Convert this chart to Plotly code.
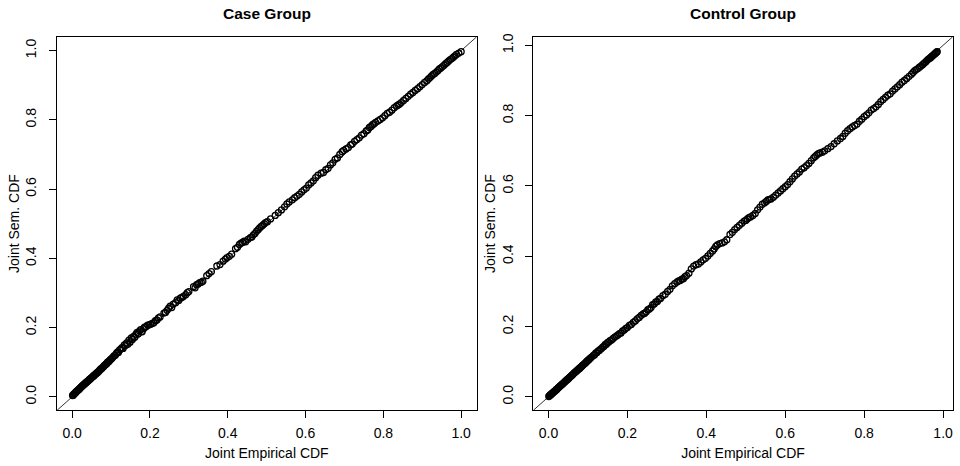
import plotly.graph_objects as go

# Joint empirical CDF vs joint semiparametric CDF, case group
case_x = [
    0.001, 0.003, 0.004, 0.006, 0.007, 0.009, 0.010, 0.012, 0.013, 0.015,
    0.016, 0.018, 0.019, 0.021, 0.022, 0.024, 0.025, 0.027, 0.028, 0.030,
    0.031, 0.033, 0.035, 0.036, 0.038, 0.040, 0.041, 0.043, 0.045, 0.046,
    0.048, 0.050, 0.052, 0.054, 0.055, 0.057, 0.059, 0.061, 0.063, 0.065,
    0.067, 0.069, 0.071, 0.073, 0.075, 0.077, 0.079, 0.081, 0.083, 0.085,
    0.087, 0.089, 0.091, 0.093, 0.095, 0.097, 0.099, 0.101, 0.103, 0.105,
    0.108, 0.111, 0.114, 0.117, 0.119, 0.122, 0.125, 0.128, 0.131, 0.134,
    0.137, 0.140, 0.143, 0.146, 0.149, 0.152, 0.155, 0.158, 0.161, 0.164,
    0.167, 0.170, 0.173, 0.176, 0.180, 0.183, 0.186, 0.190, 0.194, 0.198,
    0.202, 0.206, 0.210, 0.214, 0.218, 0.222, 0.226, 0.236, 0.240, 0.244,
    0.248, 0.252, 0.256, 0.260, 0.266, 0.270, 0.274, 0.278, 0.282, 0.286,
    0.292, 0.296, 0.300, 0.312, 0.316, 0.320, 0.324, 0.328, 0.332, 0.336,
    0.346, 0.352, 0.358, 0.372, 0.380, 0.388, 0.394, 0.398, 0.404, 0.410,
    0.420, 0.425, 0.430, 0.434, 0.438, 0.442, 0.446, 0.452, 0.458, 0.462,
    0.466, 0.470, 0.474, 0.478, 0.482, 0.486, 0.490, 0.494, 0.498, 0.502,
    0.510, 0.522, 0.530, 0.538, 0.546, 0.552, 0.558, 0.566, 0.572, 0.578,
    0.584, 0.590, 0.596, 0.602, 0.608, 0.614, 0.620, 0.626, 0.632, 0.640,
    0.646, 0.652, 0.658, 0.664, 0.670, 0.676, 0.682, 0.688, 0.694, 0.698,
    0.704, 0.710, 0.716, 0.720, 0.726, 0.732, 0.738, 0.744, 0.750, 0.756,
    0.760, 0.764, 0.768, 0.772, 0.776, 0.780, 0.786, 0.792, 0.798, 0.804,
    0.810, 0.816, 0.822, 0.828, 0.834, 0.838, 0.842, 0.846, 0.852, 0.858,
    0.864, 0.870, 0.876, 0.882, 0.888, 0.894, 0.900, 0.906, 0.912, 0.916,
    0.920, 0.924, 0.928, 0.932, 0.936, 0.940, 0.944, 0.948, 0.952, 0.956,
    0.960, 0.964, 0.968, 0.972, 0.976, 0.980, 0.984, 0.988, 0.994, 1.000,
]
case_y = [
    0.004, 0.005, 0.008, 0.009, 0.011, 0.012, 0.015, 0.016, 0.017, 0.020,
    0.020, 0.023, 0.023, 0.026, 0.027, 0.029, 0.031, 0.032, 0.034, 0.035,
    0.037, 0.038, 0.041, 0.041, 0.044, 0.045, 0.047, 0.048, 0.051, 0.051,
    0.054, 0.055, 0.058, 0.059, 0.061, 0.062, 0.065, 0.066, 0.069, 0.070,
    0.073, 0.074, 0.078, 0.079, 0.082, 0.083, 0.086, 0.088, 0.091, 0.092,
    0.095, 0.096, 0.100, 0.101, 0.103, 0.106, 0.108, 0.110, 0.112, 0.115,
    0.119, 0.120, 0.126, 0.130, 0.128, 0.136, 0.138, 0.142, 0.140, 0.150,
    0.148, 0.156, 0.152, 0.164, 0.158, 0.170, 0.166, 0.175, 0.172, 0.181,
    0.186, 0.182, 0.190, 0.194, 0.188, 0.197, 0.201, 0.203, 0.207, 0.208,
    0.210, 0.212, 0.214, 0.220, 0.222, 0.228, 0.231, 0.242, 0.244, 0.250,
    0.256, 0.262, 0.258, 0.268, 0.272, 0.280, 0.278, 0.285, 0.287, 0.290,
    0.295, 0.301, 0.304, 0.318, 0.315, 0.324, 0.326, 0.330, 0.331, 0.334,
    0.350, 0.356, 0.362, 0.378, 0.382, 0.392, 0.398, 0.402, 0.406, 0.412,
    0.428, 0.432, 0.440, 0.444, 0.446, 0.450, 0.448, 0.455, 0.460, 0.462,
    0.468, 0.472, 0.478, 0.483, 0.488, 0.492, 0.496, 0.500, 0.504, 0.506,
    0.514, 0.524, 0.532, 0.540, 0.549, 0.557, 0.563, 0.569, 0.575, 0.580,
    0.585, 0.592, 0.598, 0.603, 0.612, 0.618, 0.624, 0.633, 0.640, 0.646,
    0.648, 0.656, 0.660, 0.670, 0.676, 0.686, 0.690, 0.700, 0.708, 0.712,
    0.716, 0.720, 0.728, 0.730, 0.738, 0.743, 0.748, 0.756, 0.760, 0.768,
    0.771, 0.778, 0.781, 0.786, 0.789, 0.793, 0.797, 0.801, 0.806, 0.812,
    0.819, 0.822, 0.828, 0.835, 0.840, 0.843, 0.846, 0.850, 0.856, 0.862,
    0.868, 0.874, 0.879, 0.885, 0.890, 0.896, 0.902, 0.908, 0.913, 0.918,
    0.922, 0.927, 0.931, 0.934, 0.938, 0.942, 0.947, 0.950, 0.954, 0.958,
    0.962, 0.966, 0.970, 0.974, 0.977, 0.981, 0.985, 0.989, 0.993, 0.997,
]

# Same comparison for the control group
control_x = [
    0.001, 0.002, 0.004, 0.005, 0.007, 0.008, 0.010, 0.011, 0.013, 0.014,
    0.016, 0.017, 0.019, 0.020, 0.022, 0.024, 0.025, 0.027, 0.029, 0.030,
    0.032, 0.034, 0.035, 0.037, 0.039, 0.041, 0.042, 0.044, 0.046, 0.048,
    0.050, 0.052, 0.053, 0.055, 0.057, 0.059, 0.061, 0.063, 0.065, 0.067,
    0.069, 0.071, 0.073, 0.075, 0.077, 0.079, 0.081, 0.083, 0.085, 0.087,
    0.089, 0.091, 0.093, 0.095, 0.097, 0.099, 0.101, 0.103, 0.105, 0.107,
    0.110, 0.114, 0.117, 0.120, 0.123, 0.126, 0.129, 0.132, 0.135, 0.138,
    0.141, 0.144, 0.147, 0.150, 0.153, 0.156, 0.160, 0.164, 0.168, 0.172,
    0.176, 0.180, 0.184, 0.188, 0.192, 0.196, 0.200, 0.205, 0.210, 0.215,
    0.220, 0.225, 0.230, 0.235, 0.240, 0.244, 0.248, 0.252, 0.256, 0.260,
    0.264, 0.268, 0.272, 0.276, 0.280, 0.284, 0.290, 0.296, 0.302, 0.308,
    0.314, 0.320, 0.326, 0.330, 0.334, 0.338, 0.342, 0.346, 0.350, 0.356,
    0.362, 0.368, 0.374, 0.380, 0.386, 0.392, 0.398, 0.404, 0.410, 0.416,
    0.420, 0.424, 0.428, 0.434, 0.440, 0.446, 0.452, 0.460, 0.466, 0.472,
    0.478, 0.484, 0.490, 0.496, 0.500, 0.504, 0.508, 0.512, 0.518, 0.524,
    0.530, 0.536, 0.542, 0.548, 0.552, 0.556, 0.560, 0.564, 0.570, 0.576,
    0.582, 0.588, 0.594, 0.600, 0.606, 0.612, 0.618, 0.624, 0.630, 0.636,
    0.642, 0.648, 0.654, 0.660, 0.666, 0.672, 0.676, 0.680, 0.684, 0.688,
    0.694, 0.700, 0.708, 0.716, 0.724, 0.732, 0.740, 0.746, 0.752, 0.758,
    0.764, 0.770, 0.776, 0.782, 0.788, 0.794, 0.800, 0.806, 0.812, 0.818,
    0.824, 0.830, 0.836, 0.842, 0.848, 0.854, 0.860, 0.866, 0.872, 0.878,
    0.884, 0.890, 0.896, 0.902, 0.908, 0.914, 0.920, 0.924, 0.928, 0.932,
    0.936, 0.940, 0.944, 0.948, 0.951, 0.954, 0.957, 0.960, 0.963, 0.966,
    0.968, 0.970, 0.972, 0.974, 0.976, 0.978, 0.980, 0.982, 0.984, 0.985,
]
control_y = [
    0.001, 0.003, 0.004, 0.006, 0.007, 0.009, 0.010, 0.012, 0.013, 0.015,
    0.016, 0.018, 0.019, 0.021, 0.022, 0.025, 0.026, 0.028, 0.030, 0.031,
    0.033, 0.035, 0.036, 0.038, 0.040, 0.042, 0.044, 0.045, 0.048, 0.049,
    0.052, 0.053, 0.055, 0.057, 0.059, 0.061, 0.063, 0.065, 0.068, 0.069,
    0.072, 0.073, 0.076, 0.077, 0.080, 0.081, 0.084, 0.085, 0.088, 0.090,
    0.092, 0.094, 0.096, 0.098, 0.101, 0.102, 0.105, 0.106, 0.109, 0.111,
    0.114, 0.118, 0.120, 0.125, 0.126, 0.131, 0.132, 0.136, 0.138, 0.142,
    0.144, 0.149, 0.150, 0.155, 0.156, 0.160, 0.162, 0.166, 0.170, 0.173,
    0.176, 0.180, 0.182, 0.188, 0.190, 0.195, 0.197, 0.203, 0.206, 0.212,
    0.216, 0.222, 0.226, 0.232, 0.236, 0.238, 0.242, 0.248, 0.250, 0.254,
    0.262, 0.264, 0.270, 0.271, 0.278, 0.280, 0.288, 0.292, 0.300, 0.306,
    0.316, 0.322, 0.327, 0.330, 0.331, 0.335, 0.336, 0.342, 0.345, 0.352,
    0.364, 0.372, 0.376, 0.378, 0.384, 0.390, 0.394, 0.401, 0.408, 0.415,
    0.421, 0.428, 0.432, 0.436, 0.438, 0.441, 0.447, 0.462, 0.468, 0.476,
    0.482, 0.488, 0.494, 0.500, 0.502, 0.506, 0.510, 0.512, 0.516, 0.522,
    0.532, 0.540, 0.548, 0.552, 0.556, 0.560, 0.562, 0.563, 0.568, 0.574,
    0.580, 0.586, 0.592, 0.598, 0.604, 0.612, 0.620, 0.628, 0.634, 0.640,
    0.648, 0.652, 0.658, 0.664, 0.672, 0.680, 0.684, 0.688, 0.692, 0.694,
    0.696, 0.700, 0.706, 0.712, 0.720, 0.728, 0.735, 0.741, 0.750, 0.757,
    0.763, 0.768, 0.772, 0.776, 0.784, 0.790, 0.797, 0.802, 0.808, 0.816,
    0.820, 0.825, 0.832, 0.840, 0.846, 0.852, 0.858, 0.862, 0.870, 0.876,
    0.882, 0.888, 0.895, 0.900, 0.906, 0.912, 0.918, 0.923, 0.928, 0.931,
    0.934, 0.938, 0.941, 0.945, 0.948, 0.951, 0.954, 0.958, 0.961, 0.963,
    0.965, 0.967, 0.969, 0.971, 0.973, 0.975, 0.977, 0.979, 0.981, 0.982,
]

panel_titles = ["Case Group", "Control Group"]
x_title = "Joint Empirical CDF"
y_title = "Joint Sem. CDF"
tick_vals = [0.0, 0.2, 0.4, 0.6, 0.8, 1.0]
tick_text = ["0.0", "0.2", "0.4", "0.6", "0.8", "1.0"]

FONT = "Liberation Sans, Arial, Helvetica, sans-serif"
W, H = 960, 466

# plot regions in pixels: (left, right), shared (top, bottom)
panel_px = [(57, 476.7), (533.3, 952.7)]
top_px, bottom_px = 34, 410


def padded_range(xs, ys):
    # R-style axis range: data range widened by 4% on each side
    lo = min(min(xs), min(ys))
    hi = max(max(xs), max(ys))
    pad = 0.04 * (hi - lo)
    return [lo - pad, hi + pad]


fig = go.Figure()
panels = [(case_x, case_y), (control_x, control_y)]

for i, (xs, ys) in enumerate(panels):
    xa = "x" if i == 0 else f"x{i + 1}"
    ya = "y" if i == 0 else f"y{i + 1}"
    rng = padded_range(xs, ys)

    # identity line y = x across the whole panel
    fig.add_trace(go.Scatter(
        x=rng, y=rng, mode="lines",
        line=dict(color="black", width=0.8),
        xaxis=xa, yaxis=ya, showlegend=False, hoverinfo="skip",
    ))
    fig.add_trace(go.Scatter(
        x=xs, y=ys, mode="markers",
        marker=dict(symbol="circle-open", size=6, color="black",
                    line=dict(color="black", width=1.3)),
        xaxis=xa, yaxis=ya, showlegend=False,
    ))

    left, right = panel_px[i]
    common = dict(
        range=rng, showline=True, mirror=True, linecolor="black", linewidth=1,
        ticks="outside", ticklen=7, tickwidth=1, tickcolor="black",
        tickvals=tick_vals, ticktext=tick_text,
        showgrid=False, zeroline=False,
        tickfont=dict(family=FONT, size=14, color="black"),
    )
    xkey = "xaxis" if i == 0 else f"xaxis{i + 1}"
    ykey = "yaxis" if i == 0 else f"yaxis{i + 1}"
    fig.update_layout({
        xkey: dict(
            common, domain=[left / W, right / W], anchor=ya,
            ticklabelstandoff=3,
            title=dict(text=x_title, standoff=8,
                       font=dict(family=FONT, size=14, color="black")),
        ),
        ykey: dict(
            common, domain=[1 - bottom_px / H, 1 - top_px / H], anchor=xa,
            tickangle=-90, ticklabelstandoff=7,
            title=dict(text=y_title, standoff=0,
                       font=dict(family=FONT, size=14, color="black")),
        ),
    })

    fig.add_annotation(
        text=f"<b>{panel_titles[i]}</b>", xref="paper", yref="paper",
        x=(left + right) / 2 / W, y=1 - 11 / H,
        xanchor="center", yanchor="middle", showarrow=False,
        font=dict(family=FONT, size=15.5, color="black"),
    )

fig.update_layout(
    width=W, height=H,
    margin=dict(l=0, r=0, t=0, b=0),
    paper_bgcolor="white", plot_bgcolor="white",
    font=dict(family=FONT, size=14, color="black"),
)

fig.write_html("out.html")
